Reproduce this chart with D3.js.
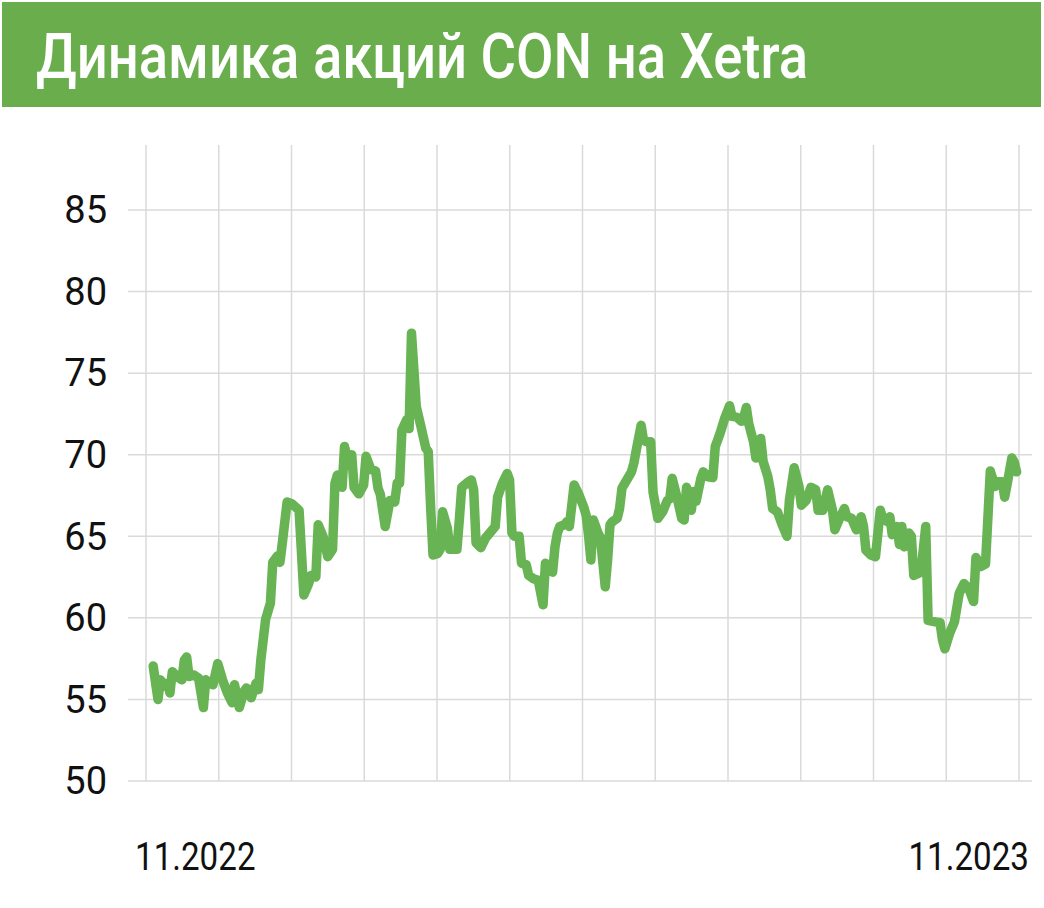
<!DOCTYPE html>
<html>
<head>
<meta charset="utf-8">
<script src="https://cdn.jsdelivr.net/npm/d3@7"></script>
<style>
  body { margin: 0; background: #fff; }
  svg { display: block; }
</style>
</head>
<body>
<div id="chart-area"></div>
<script>
// Динамика акций CON на Xetra, 11.2022 - 11.2023

const title = "Динамика акций CON на Xetra"
const months = d3.range(0, 13) // 11.2022 ... 11.2023, one grid line each
const yTicks = [50, 55, 60, 65, 70, 75, 80, 85]
const xLabels = ["11.2022", "11.2023"]

// days since 1 Nov 2022
const days = [3, 5, 6, 8, 9, 10, 11, 13, 15, 16, 17, 18, 20, 22, 24, 25, 27, 28, 30, 32,
  34, 36, 37, 39, 41, 42, 44, 46, 47, 48, 50, 52, 53, 55, 56, 57, 59, 61, 64, 66,
  68, 69, 71, 72, 74, 76, 78, 79, 80, 81, 82, 83, 84, 86, 87, 89, 91, 92, 94, 96,
  97, 98, 100, 102, 104, 105, 106, 107, 109, 110, 111, 112, 113, 115, 117, 118, 119, 120, 122, 123,
  124, 126, 127, 130, 131, 132, 134, 136, 137, 138, 140, 142, 146, 147, 149, 151, 152, 153, 154, 156,
  157, 159, 160, 162, 164, 166, 167, 168, 170, 171, 172, 173, 175, 176, 177, 179, 181, 183, 184, 185,
  186, 187, 188, 189, 190, 192, 193, 194, 195, 197, 198, 199, 201, 203, 204, 205, 207, 208, 209, 211,
  212, 214, 216, 218, 219, 220, 222, 224, 225, 226, 227, 228, 229, 230, 232, 233, 235, 237, 238, 239,
  240, 242, 244, 245, 247, 249, 250, 251, 252, 254, 255, 256, 257, 258, 260, 261, 262, 264, 266, 268,
  269, 271, 273, 274, 276, 278, 280, 281, 283, 285, 287, 288, 290, 292, 293, 295, 297, 299, 300, 301,
  303, 305, 307, 308, 310, 311, 312, 314, 315, 316, 317, 319, 320, 321, 324, 326, 327, 330, 332, 333,
  334, 336, 338, 340, 342, 344, 346, 347, 349, 351, 353, 355, 356, 358, 359, 360, 362, 363, 364]

// closing price, EUR
const prices = [57.05, 55.0, 56.2, 55.8, 56.0, 55.4, 56.7, 56.4, 56.2, 57.4, 57.6, 56.4, 56.5, 56.3, 54.5, 56.2, 56.0, 55.9, 57.2, 56.2,
  55.4, 54.8, 55.9, 54.5, 55.5, 55.7, 55.1, 56.0, 55.6, 57.4, 59.9, 60.9, 63.4, 63.8, 63.4, 64.6, 67.1, 67.0, 66.6, 61.4,
  62.1, 62.6, 62.5, 65.7, 65.0, 63.75, 64.2, 68.25, 68.75, 68.65, 68.0, 70.5, 69.9, 70.0, 68.0, 67.6, 68.15, 69.9, 69.1, 69.0,
  67.95, 67.55, 65.6, 67.2, 67.1, 68.25, 68.25, 71.5, 72.15, 71.6, 77.45, 75.2, 72.95, 71.7, 70.4, 70.2, 66.8, 63.85, 63.95, 64.2,
  66.5, 65.5, 64.2, 64.2, 66.0, 68.0, 68.25, 68.45, 67.85, 64.6, 64.3, 64.9, 65.6, 67.4, 68.25, 68.85, 68.45, 65.2, 65.0, 65.0,
  63.35, 63.25, 62.6, 62.4, 62.3, 60.8, 63.35, 63.05, 62.8, 64.35, 65.2, 65.6, 65.7, 65.9, 65.6, 68.15, 67.55, 66.8, 66.3, 65.1,
  63.55, 66.0, 65.6, 65.2, 64.9, 61.9, 63.55, 65.7, 65.9, 66.1, 66.7, 67.95, 68.45, 68.95, 69.5, 70.3, 71.8, 70.9, 70.8, 70.8,
  67.7, 66.1, 66.5, 67.2, 67.3, 68.55, 67.4, 66.1, 66.0, 68.0, 67.6, 66.6, 67.75, 67.15, 68.55, 68.95, 68.65, 68.6, 70.5, 70.9,
  71.3, 72.25, 73.0, 72.35, 72.3, 72.05, 72.35, 72.9, 71.9, 70.8, 69.8, 70.3, 71.0, 69.6, 68.65, 67.85, 66.7, 66.5, 65.7, 65.0,
  67.2, 69.2, 68.05, 66.9, 67.2, 68.0, 67.85, 66.6, 66.6, 67.85, 66.6, 65.4, 66.1, 66.7, 66.2, 66.1, 65.4, 66.2, 65.6, 64.15,
  63.85, 63.75, 66.6, 66.1, 65.9, 66.2, 65.1, 65.6, 64.5, 65.6, 64.35, 65.2, 65.0, 62.6, 62.8, 65.6, 59.85, 59.75, 59.7, 58.65,
  58.1, 59.05, 59.75, 61.5, 62.1, 61.8, 61.0, 63.7, 63.15, 63.3, 69.0, 68.05, 68.35, 68.35, 67.4, 68.15, 69.8, 69.55, 68.95]

const width = 1044, height = 908

const svg = d3.select("#chart-area")
  .append("svg")
    .attr("width", width)
    .attr("height", height)

// title bar
svg.append("rect")
  .attr("x", 2).attr("y", 2)
  .attr("width", 1039).attr("height", 105)
  .attr("fill", "#6aad4d")

svg.append("text")
  .attr("x", 36).attr("y", 78)
  .attr("fill", "#fff")
  .attr("font-family", "Roboto, 'Noto Sans', sans-serif")
  .attr("font-weight", 500)
  .attr("font-size", 63)
  .attr("textLength", 772)
  .attr("lengthAdjust", "spacingAndGlyphs")
  .text(title)

// scales: months equally spaced, days along the same span
const xm = d3.scaleLinear().domain([0, 12]).range([146, 1019])
const x = d3.scaleLinear().domain([0, 365]).range([146, 1019])
const y = d3.scaleLinear().domain([50, 85]).range([781, 210])

const data = days.map((d, i) => ({ day: d, value: prices[i] }))

// grid
const g = svg.append("g")

g.selectAll(".hgrid")
  .data(yTicks)
  .join("line")
    .attr("class", "hgrid")
    .attr("x1", 128).attr("x2", 1032)
    .attr("y1", d => y(d)).attr("y2", d => y(d))
    .attr("stroke", "#dadada")
    .attr("stroke-width", 1.5)

g.selectAll(".vgrid")
  .data(months)
  .join("line")
    .attr("class", "vgrid")
    .attr("x1", d => xm(d)).attr("x2", d => xm(d))
    .attr("y1", 145).attr("y2", y(50))
    .attr("stroke", "#dadada")
    .attr("stroke-width", 1.5)

// y labels
g.selectAll(".ylab")
  .data(yTicks)
  .join("text")
    .attr("class", "ylab")
    .attr("x", 107)
    .attr("y", d => y(d))
    .attr("dy", "0.35em")
    .attr("text-anchor", "end")
    .attr("font-family", "Roboto, sans-serif")
    .attr("font-weight", 400)
    .attr("font-size", 38)
    .attr("fill", "#111")
    .text(d => d)

// x labels, slightly condensed
g.selectAll(".xlab")
  .data(xLabels)
  .join("text")
    .attr("class", "xlab")
    .attr("transform", (d, i) => `translate(${i == 0 ? 135 : 1029},870) scale(0.85,1)`)
    .attr("text-anchor", (d, i) => i == 0 ? "start" : "end")
    .attr("font-family", "Roboto, sans-serif")
    .attr("font-weight", 400)
    .attr("font-size", 39)
    .attr("fill", "#111")
    .text(d => d)

// price line
const line = d3.line()
  .x(d => x(d.day))
  .y(d => y(d.value))

svg.append("path")
  .datum(data)
  .attr("d", line)
  .attr("fill", "none")
  .attr("stroke", "#68b454")
  .attr("stroke-width", 9.5)
  .attr("stroke-linejoin", "round")
  .attr("stroke-linecap", "round")
</script>
</body>
</html>
